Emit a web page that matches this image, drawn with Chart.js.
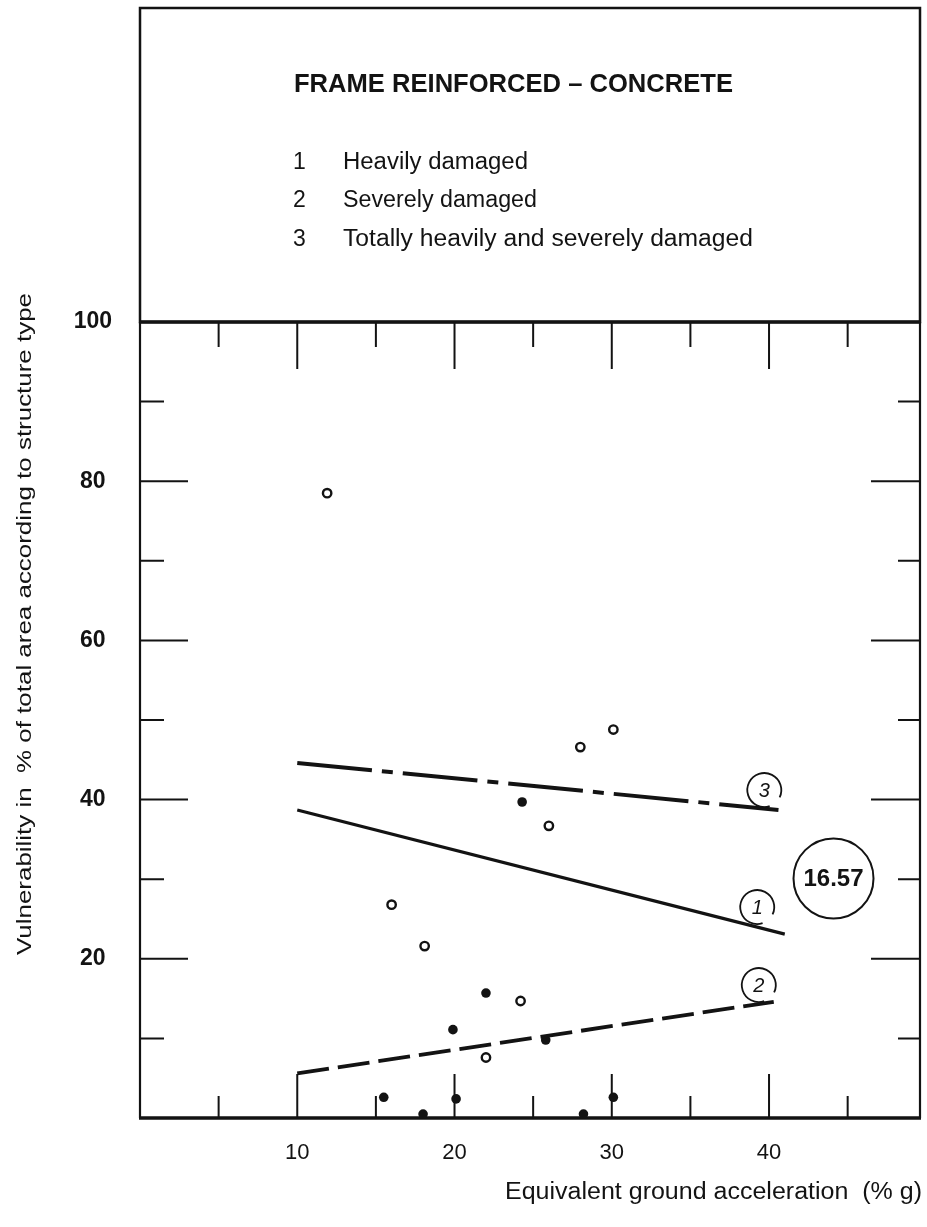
<!DOCTYPE html>
<html>
<head>
<meta charset="utf-8">
<script src="https://cdn.jsdelivr.net/npm/chart.js@4"></script>
<style>
html,body{margin:0;padding:0;background:#ffffff;}
#wrap{width:927px;height:1227px;position:relative;}
</style>
</head>
<body>
<div id="wrap"><canvas id="c" width="927" height="1227"></canvas></div>
<script>
// ---------- data ----------
const chartTitle = 'FRAME REINFORCED – CONCRETE';
const legendNumbers = ['1', '2', '3'];
const legendLabels = ['Heavily damaged', 'Severely damaged', 'Totally heavily and severely damaged'];
const xAxisTitle = 'Equivalent ground acceleration  (% g)';
const yAxisTitle = 'Vulnerability in  % of total area according to structure type';

const xTickValues = [10, 20, 30, 40];
const yTickValues = [20, 40, 60, 80, 100];
const xMajorMarks = [10, 20, 30, 40];
const xMinorMarks = [5, 15, 25, 35, 45];
const yMajorMarks = [20, 40, 60, 80];
const yMinorMarks = [10, 30, 50, 70, 90];

// observed points: open circles = heavily damaged, filled dots = severely damaged
const heavilyX = [11.9, 16.0, 18.1, 22.0, 24.2, 26.0, 28.0, 30.1];
const heavilyY = [78.5, 26.8, 21.6, 7.6, 14.7, 36.7, 46.6, 48.8];
const severelyX = [15.5, 18.0, 19.9, 20.1, 22.0, 24.3, 25.8, 28.2, 30.1];
const severelyY = [2.6, 0.5, 11.1, 2.4, 15.7, 39.7, 9.8, 0.5, 2.6];

// regression lines
const line1X = [10, 41.0];  const line1Y = [38.7, 23.1];   // heavily damaged (solid)
const line2X = [10, 40.3];  const line2Y = [5.6, 14.6];    // severely damaged (dashed)
const line3X = [10, 40.6];  const line3Y = [44.6, 38.7];   // total (dash-dot)

// circled curve tags and the statistic
const tagLabels = ['3', '1', '2'];
const tagX = [39.7, 39.25, 39.35];
const tagY = [41.2, 26.5, 16.7];
const statLabel = '16.57';
const statX = 44.1;
const statY = 30.1;

// ---------- drawing ----------
const INK = '#131313';
const FONT = '"Liberation Sans", Arial, Helvetica, sans-serif';

function pts(xs, ys) { return xs.map((x, i) => ({ x: x, y: ys[i] })); }

function fitText(ctx, text, x, y, w, font) {
  ctx.save();
  ctx.font = font;
  ctx.textAlign = 'left';
  ctx.textBaseline = 'alphabetic';
  const m = ctx.measureText(text).width;
  ctx.translate(x, y);
  ctx.scale(w / m, 1);
  ctx.fillText(text, 0, 0);
  ctx.restore();
}

const framePlugin = {
  id: 'frame',
  beforeDatasetsDraw(chart) {
    const ctx = chart.ctx;
    const { left, right, top, bottom } = chart.chartArea;
    const xs = chart.scales.x, ys = chart.scales.y;
    ctx.save();
    ctx.strokeStyle = INK;
    ctx.lineCap = 'butt';
    // header box
    ctx.lineWidth = 2.5;
    ctx.strokeRect(left, 8, right - left, top - 8);
    // plot box sides
    ctx.lineWidth = 2.2;
    ctx.beginPath();
    ctx.moveTo(left, top); ctx.lineTo(left, bottom);
    ctx.moveTo(right, top); ctx.lineTo(right, bottom);
    ctx.stroke();
    // thick top and bottom lines
    ctx.lineWidth = 3.4;
    ctx.beginPath();
    ctx.moveTo(left - 1, top); ctx.lineTo(right + 1, top);
    ctx.moveTo(left - 1, bottom); ctx.lineTo(right + 1, bottom);
    ctx.stroke();
    // inside tick marks
    ctx.lineWidth = 2;
    ctx.beginPath();
    xMajorMarks.forEach(v => {
      const p = xs.getPixelForValue(v);
      ctx.moveTo(p, bottom); ctx.lineTo(p, bottom - 44);
      ctx.moveTo(p, top); ctx.lineTo(p, top + 47);
    });
    xMinorMarks.forEach(v => {
      const p = xs.getPixelForValue(v);
      ctx.moveTo(p, bottom); ctx.lineTo(p, bottom - 22);
      ctx.moveTo(p, top); ctx.lineTo(p, top + 25);
    });
    yMajorMarks.forEach(v => {
      const p = ys.getPixelForValue(v);
      ctx.moveTo(left, p); ctx.lineTo(left + 48, p);
      ctx.moveTo(right, p); ctx.lineTo(right - 49, p);
    });
    yMinorMarks.forEach(v => {
      const p = ys.getPixelForValue(v);
      ctx.moveTo(left, p); ctx.lineTo(left + 24, p);
      ctx.moveTo(right, p); ctx.lineTo(right - 22, p);
    });
    ctx.stroke();
    ctx.restore();
  },
  afterDatasetsDraw(chart) {
    const ctx = chart.ctx;
    const xs = chart.scales.x, ys = chart.scales.y;
    ctx.save();
    ctx.fillStyle = INK;
    ctx.strokeStyle = INK;
    // header texts
    fitText(ctx, chartTitle, 294, 92, 439, 'bold 25px ' + FONT);
    const baselines = [168.5, 207, 245.5];
    const widths = [185, 194, 410];
    legendNumbers.forEach((n, i) => {
      ctx.font = '23px ' + FONT;
      ctx.textAlign = 'left';
      ctx.textBaseline = 'alphabetic';
      ctx.fillText(n, 293, baselines[i]);
      fitText(ctx, legendLabels[i], 343, baselines[i], widths[i], '23px ' + FONT);
    });
    // axis titles
    fitText(ctx, xAxisTitle, 505, 1198.5, 417, '23px ' + FONT);
    ctx.save();
    ctx.translate(31, 955);
    ctx.rotate(-Math.PI / 2);
    fitText(ctx, yAxisTitle, 0, 0, 662, '21px ' + FONT);
    ctx.restore();
    // circled tags
    tagLabels.forEach((t, i) => {
      const cx = xs.getPixelForValue(tagX[i]);
      const cy = ys.getPixelForValue(tagY[i]);
      ctx.lineWidth = 1.8;
      ctx.beginPath();
      ctx.arc(cx, cy, 17, 1.25, Math.PI * 2 + 0.45);
      ctx.stroke();
      ctx.font = 'italic 20px ' + FONT;
      ctx.textAlign = 'center';
      ctx.textBaseline = 'middle';
      ctx.fillText(t, cx, cy + 1);
    });
    // statistic circle
    const sx = xs.getPixelForValue(statX);
    const sy = ys.getPixelForValue(statY);
    ctx.lineWidth = 2;
    ctx.beginPath();
    ctx.arc(sx, sy, 40, 0, Math.PI * 2);
    ctx.stroke();
    ctx.font = 'bold 24px ' + FONT;
    ctx.textAlign = 'center';
    ctx.textBaseline = 'middle';
    ctx.fillText(statLabel, sx, sy + 1);
    ctx.restore();
  }
};

new Chart(document.getElementById('c'), {
  type: 'scatter',
  data: {
    datasets: [
      {
        label: '3 Totally heavily and severely damaged',
        data: pts(line3X, line3Y),
        showLine: true, pointRadius: 0,
        borderColor: INK, borderWidth: 4,
        borderDash: [75, 10, 11, 10]
      },
      {
        label: '1 Heavily damaged',
        data: pts(line1X, line1Y),
        showLine: true, pointRadius: 0,
        borderColor: INK, borderWidth: 3.2
      },
      {
        label: '2 Severely damaged',
        data: pts(line2X, line2Y),
        showLine: true, pointRadius: 0,
        borderColor: INK, borderWidth: 3.8,
        borderDash: [32, 9]
      },
      {
        label: 'Heavily damaged (observed)',
        data: pts(heavilyX, heavilyY),
        pointRadius: 4.2, pointBorderWidth: 2.4,
        pointBackgroundColor: '#ffffff', pointBorderColor: INK,
        clip: false
      },
      {
        label: 'Severely damaged (observed)',
        data: pts(severelyX, severelyY),
        pointRadius: 4.8, pointBorderWidth: 0,
        pointBackgroundColor: INK, pointBorderColor: INK,
        clip: false
      }
    ]
  },
  options: {
    responsive: false,
    animation: false,
    devicePixelRatio: 1,
    layout: { padding: { left: 0, top: 322, right: 7, bottom: 0 } },
    plugins: { legend: { display: false }, tooltip: { enabled: false }, title: { display: false } },
    scales: {
      x: {
        type: 'linear', min: 0, max: 49.6,
        grid: { display: false, drawTicks: false },
        border: { display: false },
        afterBuildTicks: s => { s.ticks = xTickValues.map(v => ({ value: v })); },
        afterFit: s => { s.height = 109; },
        ticks: {
          padding: 22, maxRotation: 0, autoSkip: false,
          color: INK, font: { family: FONT, size: 22 },
          callback: v => String(v)
        }
      },
      y: {
        type: 'linear', min: 0, max: 100,
        grid: { display: false, drawTicks: false },
        border: { display: false },
        afterBuildTicks: s => { s.ticks = yTickValues.map(v => ({ value: v })); },
        afterFit: s => { s.width = 140; },
        ticks: {
          padding: 28, crossAlign: 'center', autoSkip: false,
          color: INK, font: { family: FONT, size: 23, weight: 'bold' },
          callback: v => String(v)
        }
      }
    }
  },
  plugins: [framePlugin]
});
</script>
</body>
</html>
